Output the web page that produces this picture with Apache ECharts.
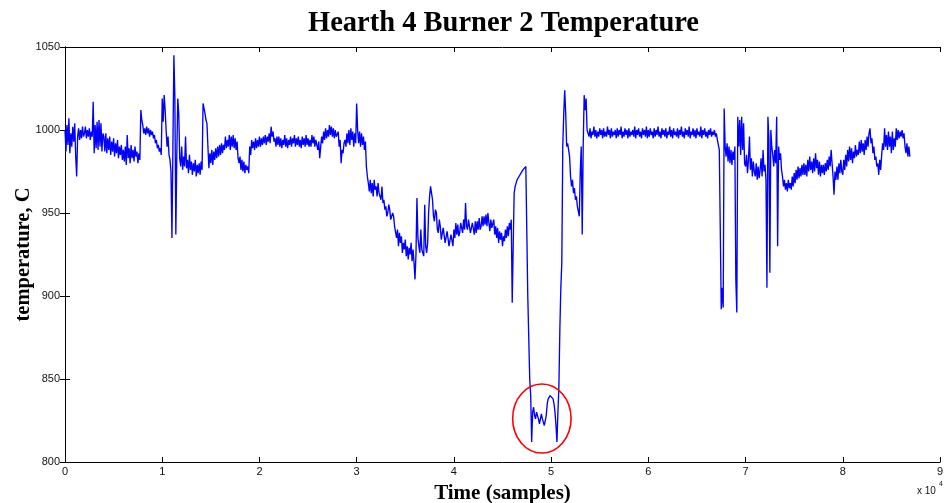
<!DOCTYPE html>
<html><head><meta charset="utf-8">
<script src="https://cdn.jsdelivr.net/npm/echarts@6/dist/echarts.min.js"></script>
<style>html,body{margin:0;padding:0;background:#fff}#c{width:949px;height:503px}</style>
</head><body><div id="c"></div>
<script>
// ---- data ----
const sampleStep = 100; // samples between stored readings
const tempC = [
1000,987,1003,991,1007,986,998,990,1002,993,1004,984,972,996,1001,994,1000,995,1002,996,
998,1002,995,1000,996,1001,994,999,996,1017,986,1003,989,1005,988,1006,990,1004,987,998,
996,987,998,986,995,988,996,985,993,987,995,984,992,986,994,983,990,985,991,982,
988,981,990,979,997,983,989,980,991,983,988,981,990,984,987,980,986,982,1012,1006,
1003,998,1001,997,1002,998,1001,996,1000,997,999,995,997,992,994,989,991,987,989,985,
1019,1005,1021,1012,1000,990,996,985,982,975,935,990,1045,1020,937,985,1019,1010,983,978,
990,976,984,978,996,977,982,974,985,976,981,973,980,975,982,972,979,974,980,973,
981,976,1016,1013,1010,1006,1004,990,977,986,980,988,979,987,982,989,983,990,984,991,
985,992,986,991,988,996,989,994,990,997,988,996,990,997,989,995,988,993,983,980,
984,976,982,975,981,974,979,976,978,974,990,985,994,989,993,988,995,989,994,990,
996,990,995,991,996,992,997,991,996,993,998,992,1002,996,999,993,995,990,996,991,
996,990,995,989,994,991,997,990,995,989,994,991,996,990,995,992,997,990,995,991,
996,990,994,989,996,991,995,990,997,991,995,990,994,990,997,992,996,990,994,991,
988,993,983,990,996,992,999,994,1001,995,1000,996,1003,997,1002,996,1001,995,1000,996,
995,999,990,994,980,988,986,992,994,990,998,992,1000,991,1001,994,999,990,998,992,
1016,1000,992,999,990,998,991,996,988,993,978,972,968,963,970,962,968,960,970,964,
966,960,968,962,963,958,966,956,958,952,954,948,950,955,952,946,945,950,948,942,
942,935,940,930,938,932,936,926,932,928,934,924,930,922,929,925,932,921,928,920,
910,925,959,935,930,926,940,928,926,924,955,930,926,932,950,960,966,962,958,948,
945,952,950,940,938,946,942,934,935,941,940,932,933,939,938,930,931,937,936,930,
940,935,944,937,943,936,938,944,945,938,946,940,956,942,940,946,946,938,938,944,
944,937,945,938,945,940,947,940,942,948,942,948,943,949,942,950,944,939,946,941,
941,946,937,942,935,941,932,939,934,938,930,936,933,940,935,942,936,944,940,946,
896,930,962,966,968,970,971,972,973,974,975,976,976,977,978,978,900,875,850,840,
812,830,833,828,826,830,830,826,823,826,829,826,824,822,821,828,835,838,839,840,
841,840,838,835,830,822,812,830,845,880,905,920,990,1010,1024,1010,990,992,988,984,
972,966,970,962,965,958,960,954,955,948,975,990,937,990,1021,1012,1019,1000,
1000,996,1001,995,999,997,1002,996,1000,995,
999,996,1001,997,1000,995,1001,996,999,996,
1002,997,1000,995,1001,996,999,997,1000,995,
1001,996,1000,997,1002,995,999,996,1001,997,
1000,995,1001,996,999,997,1000,996,1002,995,
1000,997,1001,996,999,995,1001,997,1000,996,
1002,995,1000,996,1001,997,999,995,1001,996,
1000,997,1002,996,999,995,1001,997,1000,996,
1001,995,999,997,1002,996,1000,995,1001,997,
999,996,1001,995,1000,997,1002,996,999,995,
1001,997,1000,996,1002,995,999,997,1001,996,
1000,995,1001,997,999,996,1002,995,1000,997,
1001,996,999,995,1000,997,1001,996,999,997,
1000,996,998,994,
993,988,988,892,905,893,1013,990,
984,992,981,990,980,988,979,987,982,990,910,890,1008,990,1006,985,1008,988,1004,980,
978,985,974,982,996,976,983,972,981,975,972,980,970,978,971,976,983,972,988,975,
979,970,905,1008,995,914,1000,990,985,978,988,980,1008,930,990,982,986,976,972,966,
970,964,968,963,970,965,968,964,972,966,974,968,976,970,978,971,977,972,979,973,
980,973,979,972,982,975,984,976,981,974,983,975,986,977,982,973,981,972,979,974,
979,973,980,975,982,976,984,978,988,980,972,961,975,970,978,970,980,974,982,975,
973,982,976,985,978,988,981,990,982,989,980,987,983,991,984,988,985,993,986,994,
987,992,985,994,988,996,990,998,1001,992,995,986,990,982,984,978,980,973,982,976,
985,992,988,1001,990,997,988,999,990,996,986,999,988,995,990,1001,994,1000,995,999,
996,1000,995,998,990,986,992,984,990,984
];
const xTickLabels = ['0','1','2','3','4','5','6','7','8','9'];
const yTickValues = [800,850,900,950,1000,1050];
const titleText = 'Hearth 4 Burner 2 Temperature';
const xName = 'Time (samples)';
const yName = 'temperature, C';
const xScale = 10000;

// ---- chart ----
const chart = echarts.init(document.getElementById('c'), null, {renderer:'canvas'});
const seriesData = tempC.map((v, i) => [i * sampleStep, v]);
const serif = '"Liberation Serif","Times New Roman",serif';
const sans = '"Liberation Sans",Arial,sans-serif';

const tickStyle = {show:true, inside:true, length:5, lineStyle:{color:'#000', width:1}};
const lineStyle = {show:true, lineStyle:{color:'#000', width:1}};
const yMin = yTickValues[0], yMax = yTickValues[yTickValues.length-1];

const baseGraphics = [
  {type:'text', x:503.5, y:24, style:{text:titleText, font:'bold 28.5px '+serif, fill:'#000', textAlign:'center', textVerticalAlign:'middle'}, z:10},
  {type:'text', x:917, y:486, style:{text:'x 10', font:'10px '+sans, fill:'#111'}},
  {type:'text', x:939, y:481, style:{text:'4', font:'7px '+sans, fill:'#111'}}
];

const option = {
  animation:false,
  backgroundColor:'#fff',
  grid:{left:65, right:9, top:47, bottom:41, containLabel:false, outerBoundsMode:'none'},
  xAxis:[{
    type:'value', min:0, max:9*xScale, interval:xScale,
    axisLine:lineStyle, axisTick:tickStyle, splitLine:{show:false},
    axisLabel:{color:'#111', fontSize:11, fontFamily:sans, margin:4,
      formatter:v => xTickLabels[Math.round(v/xScale)]},
    name:xName, nameLocation:'middle', nameGap:21, nameMoveOverlap:false,
    nameTextStyle:{fontFamily:serif, fontWeight:'bold', fontSize:21, color:'#000'}
  },{
    type:'value', position:'top', min:0, max:9*xScale, interval:xScale,
    axisLine:lineStyle, axisTick:tickStyle, axisLabel:{show:false}, splitLine:{show:false}
  }],
  yAxis:[{
    type:'value', min:yMin, max:yMax, interval:50,
    axisLine:lineStyle, axisTick:tickStyle, splitLine:{show:false},
    axisLabel:{color:'#111', fontSize:11, fontFamily:sans, margin:5, formatter:v => String(v)},
    name:yName, nameLocation:'middle', nameGap:31, nameRotate:90, nameMoveOverlap:false,
    nameTextStyle:{fontFamily:serif, fontWeight:'bold', fontSize:20.5, color:'#000'}
  },{
    type:'value', position:'right', min:yMin, max:yMax, interval:50,
    axisLine:lineStyle, axisTick:tickStyle, axisLabel:{show:false}, splitLine:{show:false}
  }],
  series:[{
    type:'line', data:seriesData, showSymbol:false, sampling:false,
    lineStyle:{color:'#0000ff', width:1.35}, itemStyle:{color:'#0000ff'}, z:3
  }],
  graphic:baseGraphics
};
chart.setOption(option);

// red annotation ellipse around the low excursion, placed in data coordinates
const c0 = chart.convertToPixel({gridIndex:0}, [49050, 826.2]);
const c1 = chart.convertToPixel({gridIndex:0}, [49050 + 3004, 826.2 + 20.8]);
chart.setOption({graphic:baseGraphics.concat([
  {type:'ellipse', shape:{cx:c0[0], cy:c0[1], rx:Math.abs(c1[0]-c0[0]), ry:Math.abs(c1[1]-c0[1])},
   style:{fill:'none', stroke:'#ff0000', lineWidth:1.6}, z:20}
])});
</script>
</body></html>
